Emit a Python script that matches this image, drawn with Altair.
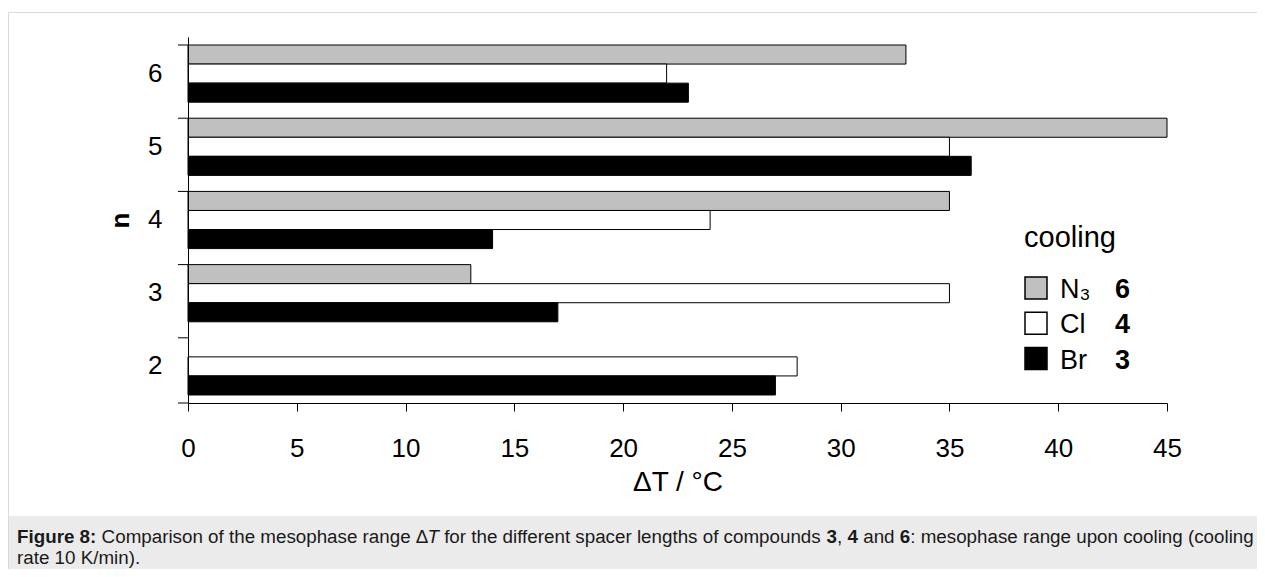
import altair as alt
import pandas as pd

# ---------------- data ----------------
n_values = [6, 5, 4, 3, 2]
n3_values = [33, 45, 35, 13, None]
cl_values = [22, 35, 24, 35, 28]
br_values = [23, 36, 14, 17, 27]

series_keys = ["N3", "Cl", "Br"]
series_labels = ["N₃", "Cl", "Br"]
series_compounds = ["6", "4", "3"]
series_fills = ["#c0c0c0", "#ffffff", "#000000"]

x_ticks = [0, 5, 10, 15, 20, 25, 30, 35, 40, 45]
x_title = "ΔT / °C"
y_title = "n"
legend_title = "cooling"

caption_line1 = [
    ("Figure 8:", "bold", "normal"),
    (" Comparison of the mesophase range Δ", "normal", "normal"),
    ("T", "normal", "italic"),
    (" for the different spacer lengths of compounds ", "normal", "normal"),
    ("3", "bold", "normal"),
    (", ", "normal", "normal"),
    ("4", "bold", "normal"),
    (" and ", "normal", "normal"),
    ("6", "bold", "normal"),
    (": mesophase range upon cooling (cooling", "normal", "normal"),
]
caption_line2 = [("rate 10 K/min).", "normal", "normal")]

FONT = "Liberation Sans"

# ---------------- layout ----------------
W, H = 979, 366
PAD_L, PAD_T = 180, 29
TOTAL_W, TOTAL_H = 1249, 561

rows = []
for vals, key in zip([n3_values, cl_values, br_values], series_keys):
    for n, v in zip(n_values, vals):
        if v is not None:
            rows.append({"n": n, "series": key, "value": v})
df = pd.DataFrame(rows)

fill_scale = alt.Scale(domain=series_keys, range=series_fills)
y_scale = alt.Scale(paddingInner=0.219, paddingOuter=0.1095)

bars = alt.Chart(df).mark_bar(stroke="black", strokeWidth=1).encode(
    x=alt.X(
        "value:Q",
        scale=alt.Scale(domain=[0, 45], nice=False, zero=True),
        axis=alt.Axis(
            values=x_ticks, format="d", title=x_title, grid=False, zindex=1,
            titleFont=FONT, titleFontSize=28, titleFontWeight="normal", titleColor="black",
            titleX=W / 2, titleY=87, titleBaseline="alphabetic", titleAlign="center",
            labelFont=FONT, labelFontSize=26, labelColor="black", labelBaseline="alphabetic",
            labelPadding=45, labelFlush=False, labelOverlap=False,
            tickSize=8, tickColor="black", domainColor="black", domainWidth=1,
        ),
    ),
    y=alt.Y(
        "n:O", sort=n_values, scale=y_scale,
        axis=alt.Axis(
            title=y_title, grid=False, labelAngle=0, zindex=1,
            titleFont=FONT, titleFontSize=26, titleFontWeight="bold", titleColor="black",
            titleAngle=270, titleX=-60, titleY=H / 2, titleBaseline="alphabetic", titleAlign="center",
            labelFont=FONT, labelFontSize=26, labelColor="black", labelPadding=26,
            ticks=False, tickSize=0, domainColor="black", domainWidth=1,
        ),
    ),
    yOffset=alt.YOffset("series:N", sort=series_keys, scale=alt.Scale(paddingInner=0, paddingOuter=0)),
    fill=alt.Fill("series:N", scale=fill_scale, legend=None),
)

tick_df = pd.DataFrame({"n": n_values})
yticks = alt.Chart(tick_df).mark_rule(color="black", strokeWidth=1).encode(
    y=alt.Y("n:O", sort=n_values, bandPosition=0, scale=y_scale),
    x=alt.value(-10), x2=alt.value(0),
)

dummy = alt.Data(values=[{"a": 1}])
bottom_tick = alt.Chart(dummy).mark_rule(color="black", strokeWidth=1).encode(
    x=alt.value(-10), x2=alt.value(0), y=alt.value(H)
)

main = alt.layer(bars, yticks, bottom_tick)

# ---------------- legend ----------------
leg_df = pd.DataFrame({
    "series": series_keys,
    "label": series_labels,
    "num": series_compounds,
    "row": list(range(len(series_keys))),
})
leg_y = alt.Y("row:Q", scale=alt.Scale(domain=[0, 2], range=[251, 321.5]), axis=None)
leg_sq = alt.Chart(leg_df).mark_square(size=484, stroke="black", strokeWidth=1.5, opacity=1).encode(
    x=alt.value(848), y=leg_y, fill=alt.Fill("series:N", scale=fill_scale, legend=None)
)
leg_lab = alt.Chart(leg_df).mark_text(
    align="left", baseline="alphabetic", dy=10, font=FONT, fontSize=27, color="black"
).encode(x=alt.value(872), y=leg_y, text="label:N")
leg_num = alt.Chart(leg_df).mark_text(
    align="left", baseline="alphabetic", dy=10, font=FONT, fontSize=27, fontWeight="bold", color="black"
).encode(x=alt.value(927), y=leg_y, text="num:N")
legend = alt.layer(leg_sq, leg_lab, leg_num)

leg_title = alt.Chart(alt.Data(values=[{"t": legend_title}])).mark_text(
    align="left", baseline="alphabetic", font=FONT, fontSize=29, color="black"
).encode(x=alt.value(836), y=alt.value(210), text="t:N")

# ---------------- frame & caption ----------------
frame = alt.Chart(dummy).mark_rect(fillOpacity=0, stroke="#d9d9d9", strokeWidth=1).encode(
    x=alt.value(-179.5), x2=alt.value(1100), y=alt.value(-24.5), y2=alt.value(620)
)
cap_bg = alt.Chart(dummy).mark_rect(fill="#ebebeb").encode(
    x=alt.value(-179), x2=alt.value(1100), y=alt.value(479), y2=alt.value(620)
)

REG = {" ": 278, "(": 333, ")": 333, ",": 278, ".": 278, "/": 278, ":": 278, "Δ": 600,
       "A": 667, "B": 667, "C": 722, "D": 722, "E": 667, "F": 611, "K": 667, "T": 611,
       "a": 556, "b": 556, "c": 500, "d": 556, "e": 556, "f": 278, "g": 556, "h": 556,
       "i": 222, "j": 222, "k": 500, "l": 222, "m": 833, "n": 556, "o": 556, "p": 556,
       "q": 556, "r": 333, "s": 500, "t": 278, "u": 556, "v": 500, "w": 722, "x": 500,
       "y": 500, "z": 500}
BOLD = {" ": 278, ":": 333, ",": 278, "F": 611, "i": 278, "g": 611, "u": 611, "r": 389, "e": 556}


def em_width(s, weight):
    table = BOLD if weight == "bold" else REG
    return sum(table.get(c, 556) for c in s) / 1000.0


CAP_FS = 18.8
CAP_X0 = -171


def caption_layers(segments, baseline_y):
    layers = []
    cum = 0.0
    for text, weight, style in segments:
        lead = len(text) - len(text.lstrip(" "))
        x = CAP_X0 + (cum + em_width(" " * lead, weight)) * CAP_FS
        cum += em_width(text, weight)
        layers.append(
            alt.Chart(alt.Data(values=[{"t": text.strip()}])).mark_text(
                align="left", baseline="alphabetic", font=FONT, fontSize=CAP_FS,
                fontWeight=weight, fontStyle=style, color="#1a1a1a",
            ).encode(x=alt.value(x), y=alt.value(baseline_y), text="t:N")
        )
    return layers


cap_layers = caption_layers(caption_line1, 506) + caption_layers(caption_line2, 527)

chart = alt.layer(frame, cap_bg, main, legend, leg_title, *cap_layers).resolve_scale(
    y="independent"
).properties(
    width=W, height=H,
    autosize=alt.AutoSizeParams(type="none"),
    padding={"left": PAD_L, "top": PAD_T, "right": TOTAL_W - PAD_L - W, "bottom": TOTAL_H - PAD_T - H},
    background="white",
).configure(font=FONT).configure_view(strokeWidth=0, stroke=None)

chart.save("out.html", embed_options={"renderer": "svg", "actions": False})
